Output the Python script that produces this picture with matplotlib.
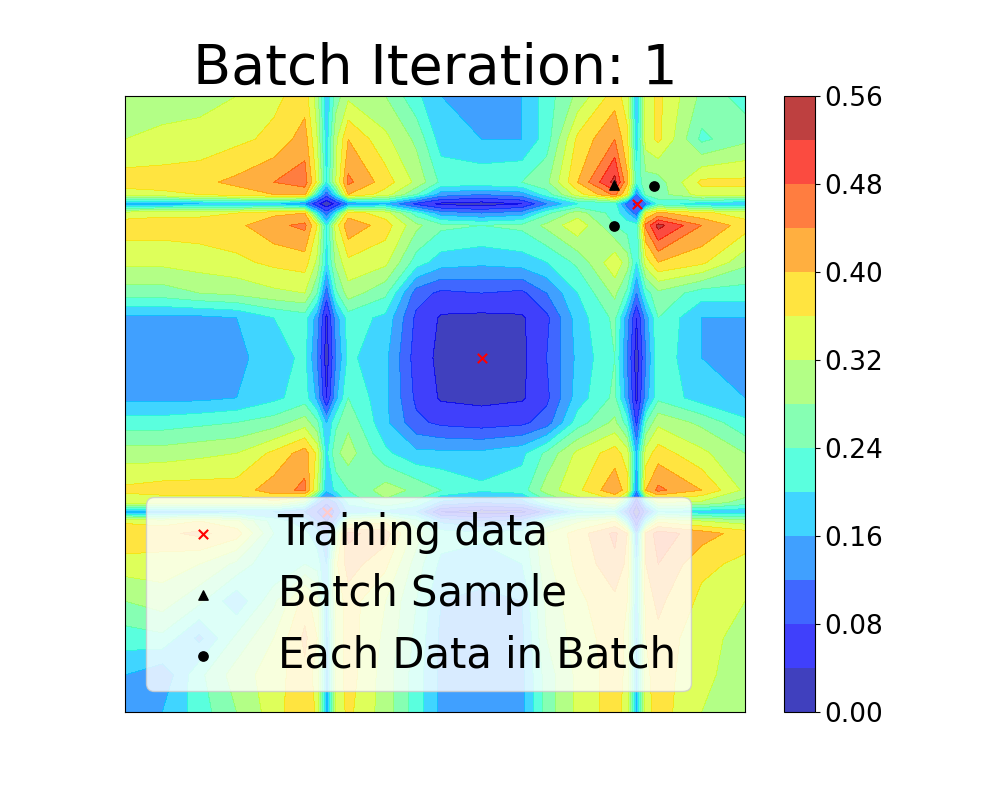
import numpy as np
import matplotlib
matplotlib.use('Agg')
import matplotlib.pyplot as plt

# Grid positions (same on both axes); extra points sit either side of the
# thin low lines at 0.325 and 0.825 and around the central low square
grid = [0.00, 0.06, 0.12, 0.18, 0.24, 0.29, 0.31, 0.325, 0.34, 0.36, 0.42, 0.47,
        0.51, 0.575, 0.64, 0.68, 0.73, 0.79, 0.81, 0.825, 0.84, 0.86, 0.93, 1.00]

# Field values, one row per y position (bottom to top)
z_rows = [
    [.12, .16, .22, .28, .34, .40, .35, .15, .33, .37, .30, .22, .15, .14, .15, .26, .33, .38, .34, .15, .34, .38, .32, .30],
    [.16, .13, .23, .30, .34, .39, .34, .15, .33, .38, .30, .22, .15, .14, .15, .26, .33, .38, .35, .15, .35, .38, .33, .30],
    [.22, .23, .15, .25, .32, .41, .36, .15, .33, .38, .31, .23, .15, .14, .15, .28, .34, .38, .35, .16, .36, .39, .33, .31],
    [.28, .30, .25, .17, .27, .38, .33, .16, .33, .38, .32, .24, .16, .15, .16, .29, .35, .39, .36, .17, .38, .41, .35, .32],
    [.34, .34, .32, .27, .20, .24, .22, .16, .35, .42, .37, .26, .19, .18, .20, .31, .37, .43, .39, .17, .40, .44, .37, .35],
    [.40, .39, .41, .38, .24, .21, .18, .12, .27, .45, .42, .30, .22, .21, .22, .32, .38, .45, .40, .13, .41, .46, .42, .38],
    [.35, .34, .36, .33, .22, .18, .12, .08, .13, .32, .35, .25, .15, .12, .14, .24, .31, .36, .20, .05, .20, .35, .32, .30],
    [.15, .15, .15, .16, .16, .12, .08, .04, .09, .17, .19, .16, .04, .02, .03, .10, .19, .20, .10, .01, .10, .20, .18, .17],
    [.33, .33, .33, .33, .35, .27, .13, .09, .12, .21, .27, .23, .15, .12, .14, .23, .29, .34, .20, .05, .20, .32, .31, .26],
    [.37, .38, .38, .38, .42, .45, .32, .17, .21, .24, .30, .27, .24, .21, .22, .30, .35, .43, .38, .13, .40, .45, .40, .31],
    [.30, .30, .31, .32, .37, .42, .35, .19, .27, .30, .21, .17, .17, .17, .19, .25, .33, .38, .34, .16, .34, .38, .33, .28],
    [.22, .22, .23, .24, .26, .30, .25, .16, .23, .27, .17, .09, .07, .06, .07, .10, .22, .29, .22, .07, .24, .31, .27, .21],
    [.15, .15, .15, .16, .19, .22, .15, .04, .15, .24, .17, .07, .035, .03, .035, .07, .18, .25, .14, .03, .14, .23, .18, .16],
    [.14, .14, .14, .15, .18, .21, .12, .02, .12, .21, .17, .06, .03, .02, .03, .08, .17, .24, .12, .02, .12, .23, .16, .14],
    [.15, .15, .15, .16, .20, .22, .14, .03, .14, .22, .19, .07, .035, .03, .035, .07, .18, .25, .14, .04, .14, .24, .16, .16],
    [.26, .26, .28, .29, .31, .32, .24, .10, .23, .30, .25, .10, .07, .08, .07, .12, .20, .29, .23, .12, .22, .27, .22, .22],
    [.33, .33, .34, .35, .37, .38, .31, .19, .29, .35, .33, .22, .18, .17, .18, .20, .25, .35, .30, .20, .34, .40, .37, .29],
    [.38, .38, .38, .39, .43, .45, .36, .20, .34, .43, .38, .29, .25, .24, .25, .29, .35, .24, .22, .22, .45, .535, .44, .38],
    [.34, .35, .35, .36, .39, .40, .20, .10, .20, .38, .34, .22, .14, .12, .14, .23, .30, .22, .17, .10, .36, .41, .37, .34],
    [.15, .15, .16, .17, .17, .13, .05, .01, .05, .13, .16, .07, .03, .02, .04, .12, .20, .22, .10, .07, .12, .22, .18, .16],
    [.34, .35, .36, .38, .40, .41, .20, .10, .20, .40, .34, .24, .14, .12, .14, .22, .34, .45, .36, .12, .25, .26, .34, .34],
    [.38, .38, .39, .41, .44, .46, .35, .20, .32, .45, .38, .31, .23, .23, .24, .27, .40, .535, .41, .22, .26, .26, .37, .37],
    [.32, .33, .33, .35, .37, .42, .32, .18, .31, .40, .33, .27, .18, .16, .16, .22, .37, .44, .37, .18, .34, .37, .23, .27],
    [.30, .30, .31, .32, .35, .38, .30, .17, .26, .31, .28, .21, .16, .14, .16, .22, .29, .38, .34, .16, .34, .37, .27, .22],
]

# Points
train_x = [0.325, 0.575, 0.825]
train_y = [0.325, 0.575, 0.825]
batch_x = [0.789]
batch_y = [0.855]
each_x = [0.853, 0.789]
each_y = [0.854, 0.789]

levels = [0.00, 0.04, 0.08, 0.12, 0.16, 0.20, 0.24, 0.28,
          0.32, 0.36, 0.40, 0.44, 0.48, 0.52, 0.56]
cbar_ticks = [0.00, 0.08, 0.16, 0.24, 0.32, 0.40, 0.48, 0.56]

z = np.array(z_rows)

plt.figure(figsize=(10, 8))
cs = plt.contourf(grid, grid, z, levels=levels, cmap='jet', alpha=0.75)
plt.scatter(train_x, train_y, c='red', marker='x', s=45, label='Training data')
plt.scatter(batch_x, batch_y, c='black', marker='^', s=45, label='Batch Sample')
plt.scatter(each_x, each_y, c='black', marker='o', s=45, label='Each Data in Batch')

cbar = plt.colorbar(cs, ticks=cbar_ticks)
cbar.ax.tick_params(labelsize=19)

plt.xticks([])
plt.yticks([])
plt.title('Batch Iteration: 1', fontsize=40)
plt.legend(loc='lower left', fontsize=30, labelspacing=0.46, borderpad=0.36)

plt.savefig('out.png', dpi=100)
